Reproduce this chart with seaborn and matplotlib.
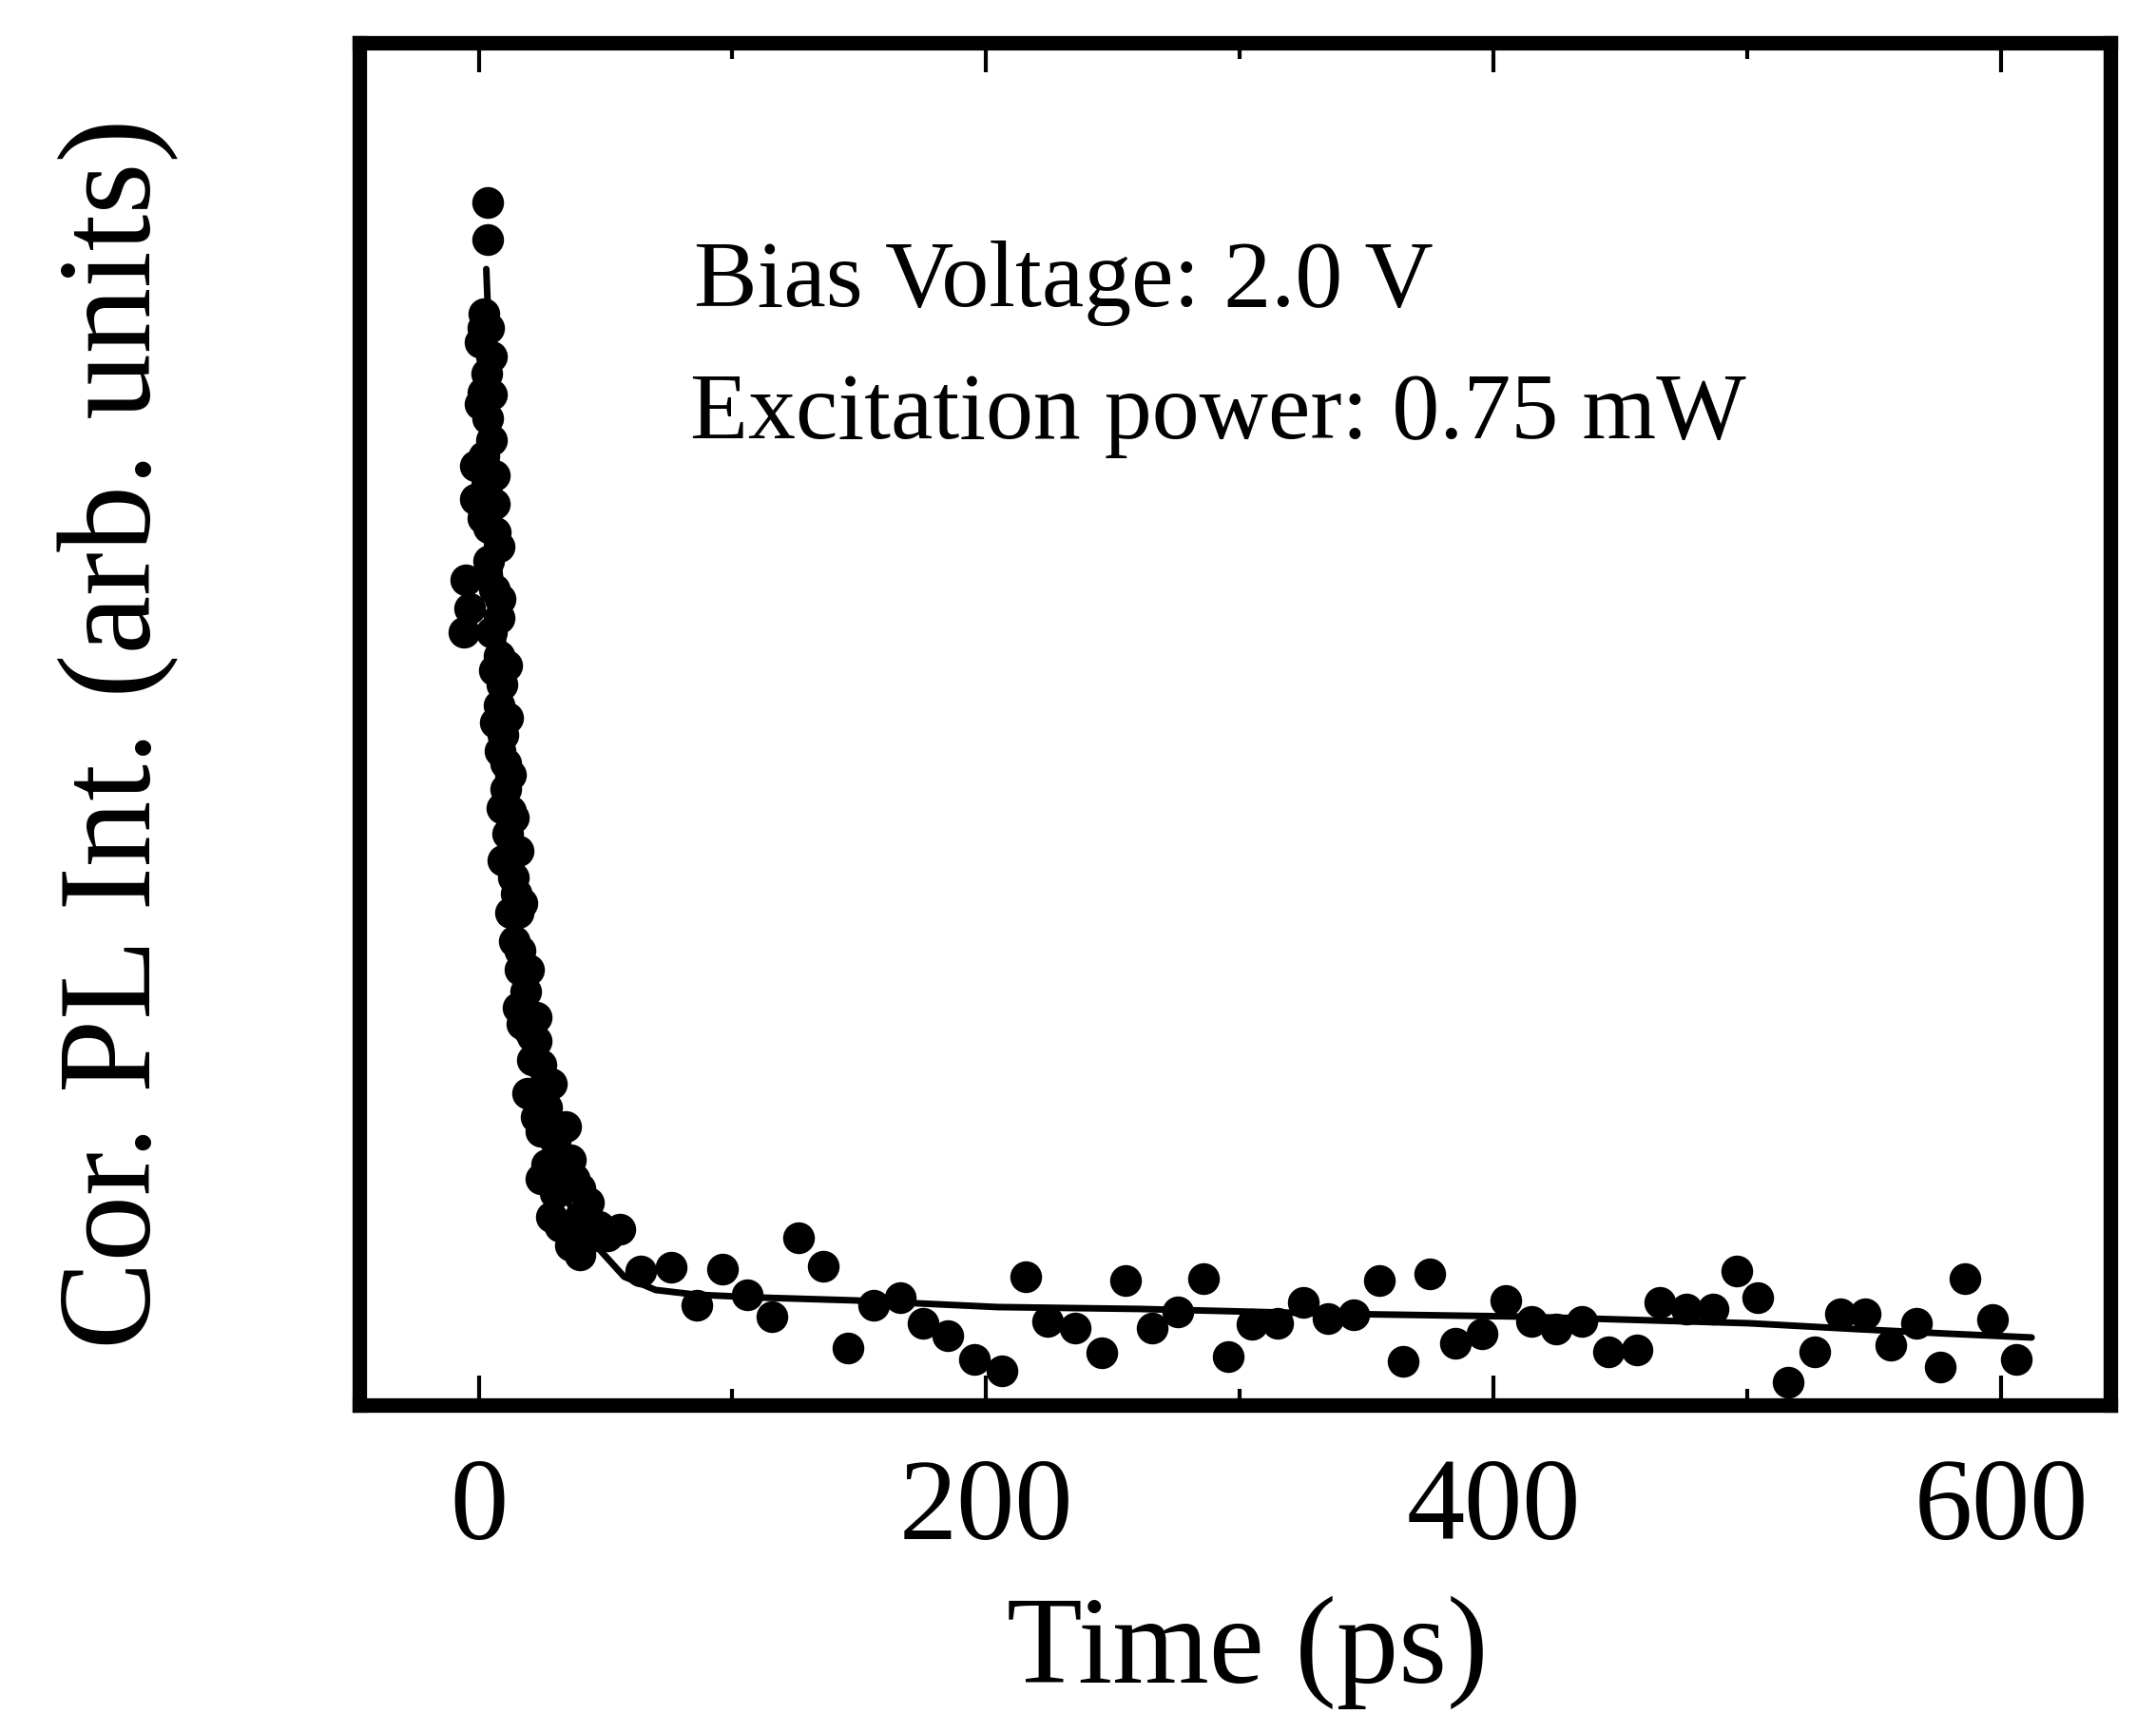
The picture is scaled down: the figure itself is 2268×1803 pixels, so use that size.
import numpy as np
import pandas as pd
import matplotlib
matplotlib.use("Agg")
import matplotlib.pyplot as plt
from matplotlib.ticker import FixedLocator
import seaborn as sns

# ---- data (time in ps, intensity in arb. units) ----
decay_t = [3.4, 3.4, 2.2, 4.1, 0.4, 3.0, 1.5, 3.4, 4.9, -1.5, 6.0, -1.5, 6.0,
           4.1, 7.9, 4.1, -5.2, 6.0, -3.4, 7.9, -6.0, 7.9, 9.0, 7.9, 9.7,
           10.5, 10.5, 11.6, 11.6, 14.6, 15.4, 14.2, 16.1, 18.4, 17.2, 21.0,
           22.8, 21.0, 19.1, 26.6, 34.1, 24.7, 26.6, 36.0, 39.7, 30.3, 24.7,
           32.2, 39.7, 36.0, 47.2, 55.8, 13.5, 12.7, 19.5, 29.0,
           1.5, 5.2, 0.7, 4.9, 2.2, 3.0, 1.5, 6.7, 3.0, 8.6, 5.2, 6.0, 10.9,
           6.7, 11.6, 8.6, 12.7, 9.0, 13.5, 9.7, 15.4, 12.7, 17.2, 16.1, 19.5,
           15.4, 22.8, 24.7, 28.5, 22.8, 30.3, 32.2, 37.8, 28.5, 41.6, 43.4,
           50.9, 39.7]
decay_i = [12.65, 12.26, 11.48, 11.33, 11.18, 10.85, 10.65, 10.38, 10.15, 9.88,
           9.78, 9.53, 9.48, 9.23, 9.03, 8.88, 8.68, 8.58, 8.38, 8.28, 8.13,
           7.88, 7.58, 7.36, 7.05, 6.75, 6.48, 6.01, 5.75, 5.38, 5.18, 4.88,
           4.58, 4.35, 4.01, 3.88, 3.83, 3.63, 3.28, 3.13, 2.93, 2.88, 2.53,
           2.58, 2.28, 2.23, 2.38, 1.88, 1.98, 1.68, 1.88, 1.85, 5.55, 6.25,
           3.95, 2.55,
           11.33, 11.03, 10.53, 10.63, 9.98, 9.68, 9.33, 9.18, 8.73, 8.48,
           8.13, 7.73, 7.78, 7.18, 7.23, 6.88, 6.63, 6.28, 6.18, 5.73, 5.83,
           5.18, 5.28, 4.78, 4.58, 4.18, 4.08, 3.58, 3.38, 3.03, 2.78, 2.48,
           2.38, 1.98, 1.73, 2.13, 1.78, 1.58]

tail_t = [64.0, 75.9, 85.8, 95.9, 105.9, 115.7, 126.1, 135.8, 145.7, 155.8,
          166.3, 175.2, 185.0, 195.5, 206.4, 215.7, 224.3, 235.1, 245.7, 255.1,
          265.5, 275.7, 285.8, 295.5, 304.9, 315.0, 325.1, 334.8, 344.9, 355.1,
          364.4, 374.9, 385.0, 395.5, 404.9, 415.0, 424.7, 434.8, 445.3, 456.6,
          465.5, 476.0, 486.5, 495.9, 504.1, 516.1, 526.6, 536.7, 546.4, 556.6,
          566.7, 576.0, 585.8, 596.6, 606.0]
tail_i = [1.41, 1.45, 1.05, 1.43, 1.16, 0.93, 1.76, 1.46, 0.60, 1.05,
          1.13, 0.86, 0.73, 0.48, 0.36, 1.35, 0.88, 0.81, 0.55, 1.31,
          0.81, 0.98, 1.33, 0.51, 0.85, 0.86, 1.08, 0.91, 0.95, 1.31,
          0.46, 1.38, 0.65, 0.75, 1.10, 0.88, 0.80, 0.88, 0.56, 0.58,
          1.08, 1.01, 1.01, 1.41, 1.13, 0.24, 0.56, 0.96, 0.96, 0.63,
          0.86, 0.40, 1.33, 0.90, 0.48]

fit_t = [3.0, 3.4, 4.9, 6.7, 8.2, 9.7, 11.6, 13.5, 15.4, 18.0, 21.7, 26.6,
         34.1, 46.1, 57.3, 69.7, 85.8, 110.9, 148.3, 204.5, 260.7, 335.6,
         410.5, 500.4, 541.6, 579.0, 612.0]
fit_i = [11.95, 11.68, 10.78, 9.78, 8.78, 7.98, 6.98, 5.98, 5.08, 4.28, 3.48,
         2.78, 2.18, 1.68, 1.35, 1.21, 1.16, 1.13, 1.10, 1.03, 1.01, 0.96,
         0.93, 0.86, 0.80, 0.75, 0.71]

xticks_major = [0, 200, 400, 600]
xticks_minor = [100, 300, 500]
xlabel = "Time (ps)"
ylabel = "Cor. PL Int. (arb. units)"
note1 = "Bias Voltage: 2.0 V"
note2 = "Excitation power: 0.75 mW"

# ---- build frames ----
pts = pd.DataFrame({"t": decay_t + tail_t, "I": decay_i + tail_i})
fit = pd.DataFrame({"t": fit_t, "I": fit_i})

sns.set_theme(style="white")
plt.rcParams["font.family"] = ["Liberation Serif", "DejaVu Serif"]
plt.rcParams["text.color"] = "black"
plt.rcParams["axes.labelcolor"] = "black"
plt.rcParams["xtick.color"] = "black"
plt.rcParams["ytick.color"] = "black"

fig = plt.figure(figsize=(22.68, 18.03), dpi=100)
ax = fig.add_axes([0.1667, 0.1803, 0.8121, 0.7947])

sns.lineplot(data=fit, x="t", y="I", ax=ax, color="black", linewidth=5,
             sort=False, estimator=None)
sns.scatterplot(data=pts, x="t", y="I", ax=ax, color="black", s=580,
                linewidth=0, edgecolor="black", zorder=3)

ax.set_xlim(-47, 643)
ax.set_ylim(0, 14.33)

ax.xaxis.set_major_locator(FixedLocator(xticks_major))
ax.xaxis.set_minor_locator(FixedLocator(xticks_minor))
ax.set_xticklabels([str(v) for v in xticks_major])
ax.set_yticks([])
ax.tick_params(axis="x", which="major", direction="in", length=22, width=3,
               top=True, bottom=True, labelsize=88, pad=40, color="black",
               labelcolor="black")
ax.tick_params(axis="x", which="minor", direction="in", length=12, width=3,
               top=True, bottom=True, color="black")

for sp in ax.spines.values():
    sp.set_visible(True)
    sp.set_color("black")
    sp.set_linewidth(11)

ax.set_xlabel(xlabel, fontsize=94, color="black")
ax.set_ylabel(ylabel, fontsize=100, color="black")
ax.xaxis.set_label_coords(0.507, -0.14)
ax.yaxis.set_label_coords(-0.103, 0.493)

ax.text(0.191, 0.807, note1, transform=ax.transAxes, fontsize=72,
        ha="left", va="baseline", color="black")
ax.text(0.189, 0.710, note2, transform=ax.transAxes, fontsize=72,
        ha="left", va="baseline", color="black")

fig.savefig("out.png", dpi=100, facecolor="white")
